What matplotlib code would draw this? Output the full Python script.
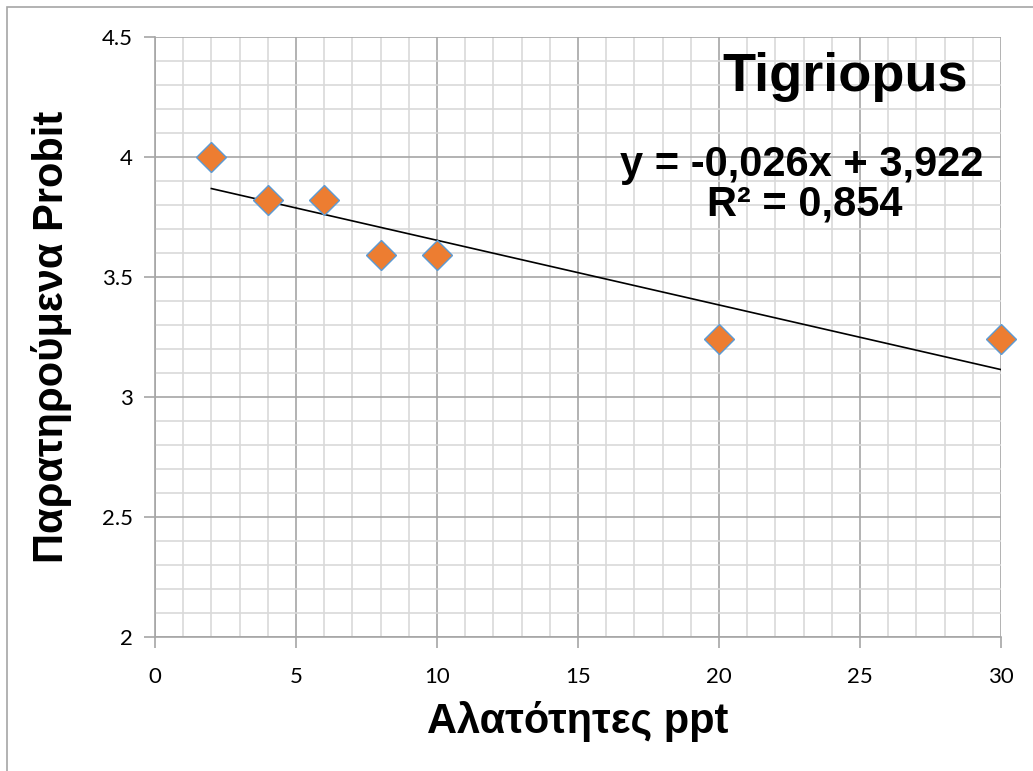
import numpy as np
import matplotlib.pyplot as plt
from matplotlib.ticker import MultipleLocator
from matplotlib.patches import Rectangle

# data
salinity = [2, 4, 6, 8, 10, 20, 30]
probit = [4.0, 3.82, 3.82, 3.59, 3.59, 3.24, 3.24]

x_label = "Αλατότητες ppt"
y_label = "Παρατηρούμενα Probit"
title = "Tigriopus"
eq_text = "y = -0,026x + 3,922"
r2_text = "R² = 0,854"

slope, intercept = np.polyfit(salinity, probit, 1)

fig = plt.figure(figsize=(10.33, 7.71), dpi=100)
ax = fig.add_axes([0.150, 0.174, 0.819, 0.778])

# outer chart frame (left / top visible)
fig.patches.append(Rectangle((7 / 1033, -0.01), 1.1, 1 - 7 / 771 + 0.01, transform=fig.transFigure,
                             fill=False, edgecolor='#A6A6A6', linewidth=1.2))

ax.set_xlim(0, 30)
ax.set_ylim(2, 4.5)
ax.xaxis.set_major_locator(MultipleLocator(5))
ax.xaxis.set_minor_locator(MultipleLocator(1))
ax.yaxis.set_major_locator(MultipleLocator(0.5))
ax.yaxis.set_minor_locator(MultipleLocator(0.1))
ax.grid(True, which='minor', color='#D9D9D9', linewidth=1.2)
ax.grid(True, which='major', color='#A6A6A6', linewidth=1.2)
ax.set_axisbelow(True)

for s in ['top', 'right']:
    ax.spines[s].set_visible(False)
for s in ['left', 'bottom']:
    ax.spines[s].set_color('#A6A6A6')
    ax.spines[s].set_linewidth(1.2)

ax.tick_params(which='major', length=8, width=1.2, color='#A6A6A6', labelsize=16, pad=8)
ax.tick_params(which='minor', length=0)
ax.set_yticks([2, 2.5, 3, 3.5, 4, 4.5])
ax.set_yticklabels(['2', '2.5', '3', '3.5', '4', '4.5'])
for lbl in ax.get_xticklabels() + ax.get_yticklabels():
    lbl.set_fontfamily(['Lato', 'DejaVu Sans'])
ax.tick_params(axis='x', pad=14)

xs = np.array([min(salinity), max(salinity)])
ax.plot(xs, slope * xs + intercept, color='black', linewidth=1.2, zorder=3)
ax.plot(salinity, probit, linestyle='none', marker='D', markersize=15,
        markerfacecolor='#ED7D31', markeredgecolor='#5B9BD5', markeredgewidth=1.0,
        zorder=4, clip_on=False)

font = ['Liberation Sans', 'DejaVu Sans']
ax.set_xlabel(x_label, fontsize=30, fontweight='bold', family=font, va='center')
ax.xaxis.set_label_coords(0.5, (49 / 771 - 0.174) / 0.778)
ax.set_ylabel(y_label, fontsize=30, fontweight='bold', family=font, va='center')
ax.yaxis.set_label_coords((52 / 1033 - 0.150) / 0.819, 0.5)

ax.text(845 / 1033, 1 - 77 / 771, title, transform=fig.transFigure, ha='center', va='center',
        fontsize=39, fontweight='bold', family=font)
ax.text(802 / 1033, 1 - 165 / 771, eq_text, transform=fig.transFigure, ha='center', va='center',
        fontsize=30, fontweight='bold', family=font)
ax.text(805 / 1033, 1 - 205 / 771, r2_text, transform=fig.transFigure, ha='center', va='center',
        fontsize=30, fontweight='bold', family=font)

fig.savefig('out.png', dpi=100)
